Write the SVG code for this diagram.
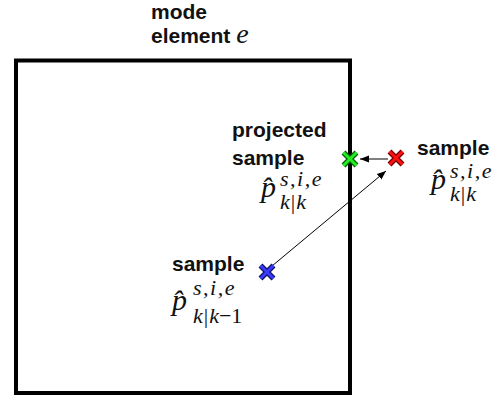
<svg xmlns="http://www.w3.org/2000/svg" width="503" height="399" viewBox="0 0 503 399">
  <style>
    .lbl { font-family: "Liberation Sans", Arial, sans-serif; font-weight: bold; font-size: 21px; fill: #111; }
    .math { font-family: "Liberation Serif", "Times New Roman", serif; font-style: italic; fill: #111; }
    .big { font-size: 30px; }
    .small { font-size: 22px; letter-spacing: 1.5px; }
    .sub { font-size: 22px; }
    .up { font-family: "Liberation Serif", serif; font-style: normal; }
    .conn { stroke: #000; stroke-width: 1; fill: none; marker-end: url(#head); }
    .xo { stroke-width: 5.5; stroke-linecap: butt; fill: none; }
    .xi { stroke-width: 3; stroke-linecap: butt; fill: none; }
  </style>
  <defs>
    <marker id="head" viewBox="0 0 10 10" refX="10" refY="5" markerWidth="9" markerHeight="9" markerUnits="userSpaceOnUse" orient="auto">
      <path d="M0,1 L10,5 L0,9 Z" fill="#000"/>
    </marker>
    <path id="cross" d="M-6.5,-6.5 L6.5,6.5 M6.5,-6.5 L-6.5,6.5"/>
  </defs>

  <!-- mode element region -->
  <g id="element">
    <rect x="16" y="60.5" width="334" height="332.5" fill="none" stroke="#000" stroke-width="4"/>
    <text class="lbl" x="151" y="19">mode</text>
    <text class="lbl" x="151" y="43">element <tspan class="math" font-weight="normal" font-size="28px">e</tspan></text>
  </g>

  <!-- connectors -->
  <g id="connectors">
    <line class="conn" x1="388" y1="159" x2="360" y2="159"/>
    <line class="conn" x1="272" y1="266" x2="386" y2="171"/>
  </g>

  <!-- predicted sample -->
  <g id="sample-pred">
    <g transform="translate(267,272)">
      <use href="#cross" class="xo" stroke="#101060"/>
      <use href="#cross" class="xi" stroke="#3a3aff"/>
    </g>
    <text class="lbl" x="172" y="271">sample</text>
    <text class="math big" x="172" y="310">p̂</text>
    <text class="math small" x="193" y="295">s,i,e</text>
    <text class="math sub" x="193" y="323">k<tspan class="up" dx="1">|</tspan><tspan dx="1">k</tspan><tspan class="up">−1</tspan></text>
  </g>

  <!-- projected sample -->
  <g id="sample-proj">
    <g transform="translate(350,159)">
      <use href="#cross" class="xo" stroke="#0a5a0a"/>
      <use href="#cross" class="xi" stroke="#22ee22"/>
    </g>
    <text class="lbl" x="232" y="137">projected</text>
    <text class="lbl" x="232" y="165">sample</text>
    <text class="math big" x="261" y="197">p̂</text>
    <text class="math small" x="280" y="186">s,i,e</text>
    <text class="math sub" x="280" y="209">k<tspan class="up" dx="1">|</tspan><tspan dx="1">k</tspan></text>
  </g>

  <!-- updated sample -->
  <g id="sample-upd">
    <g transform="translate(396,158)">
      <use href="#cross" class="xo" stroke="#700000"/>
      <use href="#cross" class="xi" stroke="#ff1010"/>
    </g>
    <text class="lbl" x="417" y="155">sample</text>
    <text class="math big" x="431" y="189">p̂</text>
    <text class="math small" x="450" y="178">s,i,e</text>
    <text class="math sub" x="450" y="201">k<tspan class="up" dx="1">|</tspan><tspan dx="1">k</tspan></text>
  </g>
</svg>
